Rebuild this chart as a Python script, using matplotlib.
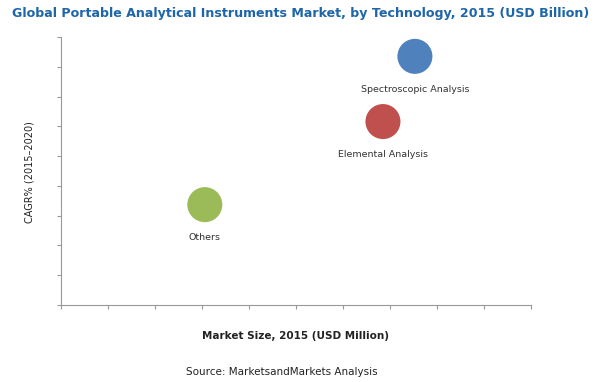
import matplotlib.pyplot as plt

# bubble data (axis units are unlabeled in the source chart)
names = ['Spectroscopic Analysis', 'Elemental Analysis', 'Others']
market_size = [7.53, 6.85, 3.06]
cagr = [8.35, 6.16, 3.37]
colors = ['#4F81BD', '#C0504D', '#9BBB59']

fig = plt.figure(figsize=(6, 3.82), dpi=100)
ax = fig.add_axes([61 / 600, 1 - 305 / 382, 470 / 600, 268 / 382])

ax.scatter(market_size, cagr, s=34 ** 2 * 0.55, c=colors, edgecolors='none', zorder=3)
for x, y, name in zip(market_size, cagr, names):
    ax.annotate(name, (x, y), xytext=(0, -24), textcoords='offset points',
                ha='center', va='center', fontsize=6.8, color='#333333')

ax.set_xlim(0, 10)
ax.set_ylim(0, 9)
ax.set_xticks(range(11))
ax.set_yticks(range(10))
ax.set_xticklabels([])
ax.set_yticklabels([])
ax.tick_params(length=3, width=0.8, color='#999999')
for side in ['top', 'right']:
    ax.spines[side].set_visible(False)
for side in ['left', 'bottom']:
    ax.spines[side].set_color('#999999')
    ax.spines[side].set_linewidth(0.8)

fig.text(0.02, 0.965, 'Global Portable Analytical Instruments Market, by Technology, 2015 (USD Billion)',
         fontsize=9.1, fontweight='bold', color='#1F66A8', ha='left', va='center')
fig.text(296 / 600, 1 - 336 / 382, 'Market Size, 2015 (USD Million)', fontsize=7.5,
         fontweight='semibold', color='#222222', ha='center', va='center')
fig.text(30 / 600, 1 - 172 / 382, 'CAGR% (2015\u20132020)', fontsize=7, rotation=90,
         color='#222222', ha='center', va='center')
fig.text(282 / 600, 1 - 372 / 382, 'Source: MarketsandMarkets Analysis', fontsize=7.5,
         color='#222222', ha='center', va='center')

fig.savefig('out.png', dpi=100)
